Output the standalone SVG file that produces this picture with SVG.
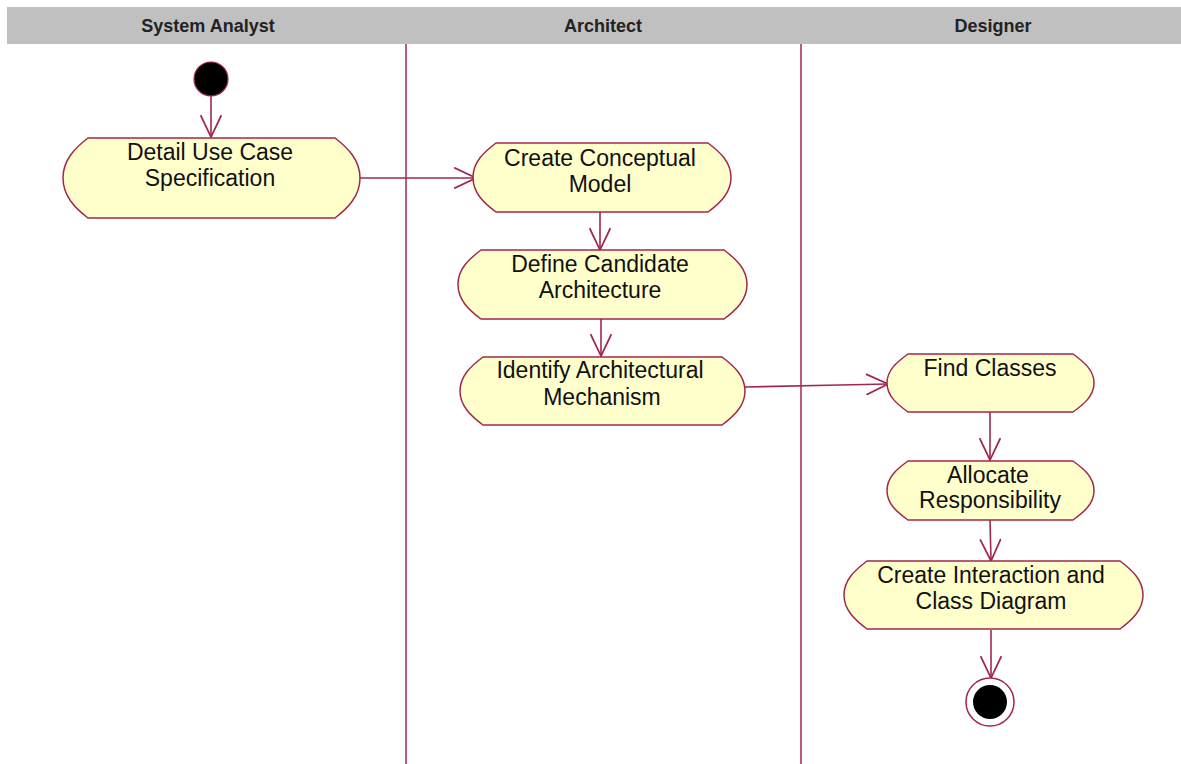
<svg xmlns="http://www.w3.org/2000/svg" width="1181" height="764" viewBox="0 0 1181 764">
<defs>
<style>
.node{fill:#FFFFCC;stroke:#A0284F;stroke-width:1.5}
.lbl{font-family:"Liberation Sans",Arial,sans-serif;font-size:23px;fill:#111;text-anchor:middle}
.hdr{font-family:"Liberation Sans",Arial,sans-serif;font-size:18px;font-weight:bold;fill:#222;text-anchor:middle}
.lane{stroke:#A0284F;stroke-width:1.5}
.conn{stroke:#A0284F;stroke-width:1.6;fill:none;marker-end:url(#open)}
</style>
<marker id="open" markerUnits="userSpaceOnUse" markerWidth="24" markerHeight="22" viewBox="0 0 22 20" refX="21" refY="10" orient="auto">
<path d="M1,0.5 L21,10 L1,19.5" fill="none" stroke="#A0284F" stroke-width="1.6"/>
</marker>
</defs>
<rect width="1181" height="764" fill="#fff"/>
<g id="header">
<rect x="7" y="7" width="1174" height="37" fill="#C0C0C0"/>
<text class="hdr" x="208" y="32">System Analyst</text>
<text class="hdr" x="603" y="32">Architect</text>
<text class="hdr" x="993" y="32">Designer</text>
<line class="lane" x1="406" y1="44" x2="406" y2="764"/>
<line class="lane" x1="801" y1="44" x2="801" y2="764"/>
</g>
<g id="connectors">
<line class="conn" x1="211" y1="96" x2="211" y2="137"/>
<line class="conn" x1="356" y1="178" x2="476" y2="178"/>
<line class="conn" x1="600" y1="212" x2="600" y2="250"/>
<line class="conn" x1="601" y1="319" x2="601" y2="356"/>
<polyline class="conn" points="745,387 840,385 888,384"/>
<line class="conn" x1="990" y1="412" x2="990" y2="460"/>
<line class="conn" x1="990" y1="520" x2="991" y2="561"/>
<line class="conn" x1="991" y1="630" x2="991" y2="678"/>
</g>
<g id="start">
<circle cx="211" cy="79" r="17" fill="#000" stroke="#A0284F" stroke-width="1.2"/>
</g>
<g id="n1">
<path class="node" d="M88,138 H335 C348,148 360,160 360,178 C360,196 348,208 335,218 H88 C75,208 63,196 63,178 C63,160 75,148 88,138 Z"/>
<text class="lbl" x="210" y="160">Detail Use Case</text>
<text class="lbl" x="210" y="186">Specification</text>
</g>
<g id="n2">
<path class="node" d="M496,143 H708 C720,152 731,162 731,177.5 C731,193 720,203 708,212 H496 C484,203 473,193 473,177.5 C473,162 484,152 496,143 Z"/>
<text class="lbl" x="600" y="166">Create Conceptual</text>
<text class="lbl" x="600" y="192">Model</text>
</g>
<g id="n3">
<path class="node" d="M481,250 H724 C736,259 747,269 747,284.5 C747,300 736,310 724,319 H481 C469,310 458,300 458,284.5 C458,269 469,259 481,250 Z"/>
<text class="lbl" x="600" y="272">Define Candidate</text>
<text class="lbl" x="600" y="298">Architecture</text>
</g>
<g id="n4">
<path class="node" d="M483,357 H722 C734,366 745,376 745,391 C745,406 734,416 722,425 H483 C471,416 460,406 460,391 C460,376 471,366 483,357 Z"/>
<text class="lbl" x="600" y="378">Identify Architectural</text>
<text class="lbl" x="602" y="405">Mechanism</text>
</g>
<g id="n5">
<path class="node" d="M908,354 H1073 C1084,362 1094,370 1094,383 C1094,396 1084,404 1073,412 H908 C897,404 887,396 887,383 C887,370 897,362 908,354 Z"/>
<text class="lbl" x="990" y="376">Find Classes</text>
</g>
<g id="n6">
<path class="node" d="M908,461 H1073 C1084,469 1094,477 1094,490.5 C1094,504 1084,512 1073,520 H908 C897,512 887,504 887,490.5 C887,477 897,469 908,461 Z"/>
<text class="lbl" x="988" y="483">Allocate</text>
<text class="lbl" x="990" y="508">Responsibility</text>
</g>
<g id="n7">
<path class="node" d="M867,561 H1120 C1132,570 1143,580 1143,595 C1143,610 1132,620 1120,629 H867 C855,620 844,610 844,595 C844,580 855,570 867,561 Z"/>
<text class="lbl" x="991" y="583">Create Interaction and</text>
<text class="lbl" x="991" y="609">Class Diagram</text>
</g>
<g id="end">
<circle cx="990" cy="702" r="24" fill="#fff" stroke="#A0284F" stroke-width="1.5"/>
<circle cx="990" cy="702" r="17" fill="#000"/>
</g>
</svg>
